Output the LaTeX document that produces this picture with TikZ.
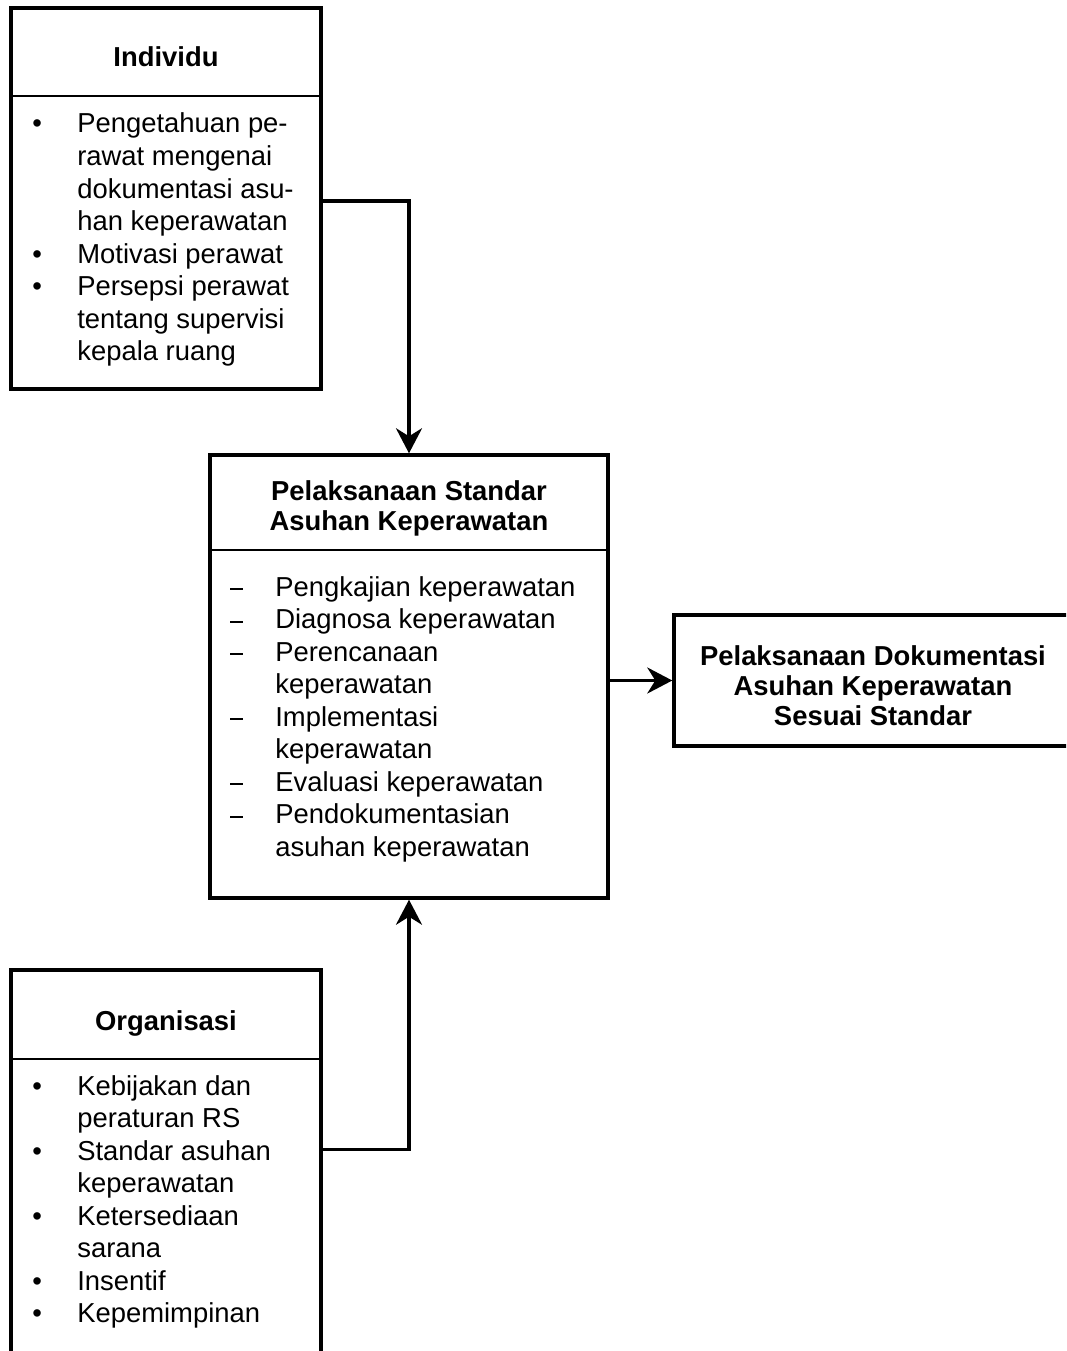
\documentclass[tikz,border=0pt]{standalone}
\usepackage{fontspec}
\setmainfont{Liberation Sans}
\usetikzlibrary{arrows.meta}

% list markers and hanging indent
\newcommand{\bul}{\makebox[0.9cm][l]{\textbullet}}
\newcommand{\dsh}{\makebox[0.9cm][l]{\rule[0.12cm]{0.26cm}{1pt}}}
\newcommand{\gap}{\hspace*{0.9cm}}

\begin{document}
\begin{tikzpicture}[x=0.02cm, y=-0.02cm,
        box/.style={draw, rectangle, line width=2pt, inner sep=0pt},
        divider/.style={line width=1.2pt},
        conn/.style={line width=2pt, -{Stealth[length=0.5cm, width=0.52cm, inset=0.16cm]}},
        txt/.style={inner sep=0pt, font=\fontsize{15.6}{18.5}\selectfont},
        title/.style={inner sep=0pt, font=\bfseries\fontsize{15.6}{17.1}\selectfont}]
        \useasboundingbox (0,0) rectangle (1066,1351);
        \clip (0,0) rectangle (1066,1351);

        % 1. The four boxes
        \node[box, minimum width=6.2cm, minimum height=7.62cm] (ind) at (166,198.5) {};
        \node[box, minimum width=7.96cm, minimum height=8.86cm] (psak) at (409,676.5) {};
        \node[box, minimum width=7.96cm, minimum height=2.62cm] (pdok) at (873,680.5) {};
        \node[box, minimum width=6.2cm, minimum height=8cm] (org) at (166,1170) {};

        % 2. Lines under the headings
        \draw[divider] ([yshift=-1.8cm]ind.north west) -- ([yshift=-1.8cm]ind.north east);
        \draw[divider] ([yshift=-1.94cm]psak.north west) -- ([yshift=-1.94cm]psak.north east);
        \draw[divider] ([yshift=-1.82cm]org.north west) -- ([yshift=-1.82cm]org.north east);

        % 3. Headings
        \node[title, anchor=base] (indTitle) at (166,67) {Individu};
        \node[title, anchor=base] (psakTitle) at (409,500) {\begin{tabular}[t]{@{}c@{}}Pelaksanaan Standar\\Asuhan Keperawatan\end{tabular}};
        \node[title, anchor=base] (pdokTitle) at (873,665) {\begin{tabular}[t]{@{}c@{}}Pelaksanaan Dokumentasi\\Asuhan Keperawatan\\Sesuai Standar\end{tabular}};
        \node[title, anchor=base] (orgTitle) at (166,1030) {Organisasi};

        % 4. Lists
        \node[txt, anchor=base west] (indList) at (32,133) {\begin{tabular}[t]{@{}l@{}}
            \bul Pengetahuan pe-\\
            \gap rawat mengenai\\
            \gap dokumentasi asu-\\
            \gap han keperawatan\\
            \bul Motivasi perawat\\
            \bul Persepsi perawat\\
            \gap tentang supervisi\\
            \gap kepala ruang
        \end{tabular}};
        \node[txt, anchor=base west] (psakList) at (230,596) {\begin{tabular}[t]{@{}l@{}}
            \dsh Pengkajian keperawatan\\
            \dsh Diagnosa keperawatan\\
            \dsh Perencanaan\\
            \gap keperawatan\\
            \dsh Implementasi\\
            \gap keperawatan\\
            \dsh Evaluasi keperawatan\\
            \dsh Pendokumentasian\\
            \gap asuhan keperawatan
        \end{tabular}};
        \node[txt, anchor=base west] (orgList) at (32,1095) {\begin{tabular}[t]{@{}l@{}}
            \bul Kebijakan dan\\
            \gap peraturan RS\\
            \bul Standar asuhan\\
            \gap keperawatan\\
            \bul Ketersediaan\\
            \gap sarana\\
            \bul Insentif\\
            \bul Kepemimpinan
        \end{tabular}};

        % 5. Connectors
        \draw[conn] ([yshift=-3.9cm]ind.north east) -| (psak.north);
        \draw[conn] (psak.east |- pdok.west) -- (pdok.west);
        \draw[conn] ([yshift=-3.62cm]org.north east) -| (psak.south);
    \end{tikzpicture}
\end{document}
